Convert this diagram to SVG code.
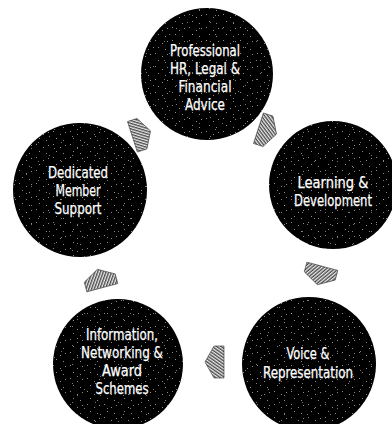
<svg xmlns="http://www.w3.org/2000/svg" width="392" height="424" viewBox="0 0 392 424">
<defs>
<pattern id="speckA" width="17" height="13" patternUnits="userSpaceOnUse">
<rect x="2" y="1" width="1" height="1" fill="#fff"/>
<rect x="9" y="4" width="1" height="1" fill="#fff"/>
<rect x="14" y="2" width="1" height="1" fill="#fff"/>
<rect x="5" y="8" width="1" height="1" fill="#fff"/>
<rect x="12" y="10" width="1" height="1" fill="#fff"/>
</pattern>
<pattern id="speckB" width="23" height="19" patternUnits="userSpaceOnUse">
<rect x="3" y="3" width="1" height="1" fill="#ccc"/>
<rect x="15" y="9" width="1" height="1" fill="#ccc"/>
<rect x="8" y="15" width="1" height="1" fill="#ccc"/>
</pattern>
<pattern id="hatch" width="2.6" height="2.6" patternUnits="userSpaceOnUse" patternTransform="rotate(35)">
<rect width="2.6" height="2.6" fill="#e8e8e8"/>
<rect width="2.6" height="1.3" fill="#4a4a4a"/>
</pattern>
<polygon id="arr" points="-9,-16 1,-16 10,0 1,16 -9,16"/>
</defs>
<style>
.node circle.base{fill:#000}
.node circle.s1{fill:url(#speckA);opacity:0.55}
.node circle.s2{fill:url(#speckB);opacity:0.6}
.node text{fill:#fff;stroke:#fff;stroke-width:0.25;font-family:"DejaVu Sans Condensed","DejaVu Sans","Liberation Sans",sans-serif;font-stretch:condensed;font-size:16px;text-anchor:middle}
#node-information text{font-size:15px}
.conn use{fill:url(#hatch);stroke:#333;stroke-width:0.6}
</style>
<rect width="392" height="424" fill="#fff"/>
<g id="connectors" class="conn">
<use href="#arr" transform="translate(141,134) rotate(-18)"/>
<use href="#arr" transform="translate(267,131) rotate(18)"/>
<use href="#arr" transform="translate(320,275) rotate(105)"/>
<use href="#arr" transform="translate(215,362) rotate(180)"/>
<use href="#arr" transform="translate(100,279) rotate(-105)"/>
</g>
<g id="node-advice" class="node">
<circle class="base" cx="207" cy="74" r="66"/>
<circle class="s1" cx="207" cy="74" r="66"/>
<circle class="s2" cx="207" cy="74" r="66"/>
<text x="205" y="56" textLength="70" lengthAdjust="spacingAndGlyphs">Professional</text>
<text x="205" y="74" textLength="70" lengthAdjust="spacingAndGlyphs">HR, Legal &amp;</text>
<text x="205" y="92" textLength="53" lengthAdjust="spacingAndGlyphs">Financial</text>
<text x="205" y="110" textLength="40" lengthAdjust="spacingAndGlyphs">Advice</text>
</g>
<g id="node-learning" class="node">
<circle class="base" cx="333" cy="185" r="64"/>
<circle class="s1" cx="333" cy="185" r="64"/>
<circle class="s2" cx="333" cy="185" r="64"/>
<text x="333" y="188" textLength="71" lengthAdjust="spacingAndGlyphs">Learning &amp;</text>
<text x="333" y="206" textLength="78" lengthAdjust="spacingAndGlyphs">Development</text>
</g>
<g id="node-voice" class="node">
<circle class="base" cx="309" cy="364" r="67"/>
<circle class="s1" cx="309" cy="364" r="67"/>
<circle class="s2" cx="309" cy="364" r="67"/>
<text x="308" y="359" textLength="43" lengthAdjust="spacingAndGlyphs">Voice &amp;</text>
<text x="308" y="378" textLength="90" lengthAdjust="spacingAndGlyphs">Representation</text>
</g>
<g id="node-information" class="node">
<circle class="base" cx="118" cy="364" r="65"/>
<circle class="s1" cx="118" cy="364" r="65"/>
<circle class="s2" cx="118" cy="364" r="65"/>
<text x="122" y="340" textLength="72" lengthAdjust="spacingAndGlyphs">Information,</text>
<text x="122" y="358" textLength="82" lengthAdjust="spacingAndGlyphs">Networking &amp;</text>
<text x="122" y="376" textLength="40" lengthAdjust="spacingAndGlyphs">Award</text>
<text x="122" y="394" textLength="53" lengthAdjust="spacingAndGlyphs">Schemes</text>
</g>
<g id="node-support" class="node">
<circle class="base" cx="80" cy="190" r="67"/>
<circle class="s1" cx="80" cy="190" r="67"/>
<circle class="s2" cx="80" cy="190" r="67"/>
<text x="78" y="178" textLength="60" lengthAdjust="spacingAndGlyphs">Dedicated</text>
<text x="78" y="196" textLength="45" lengthAdjust="spacingAndGlyphs">Member</text>
<text x="78" y="214" textLength="47" lengthAdjust="spacingAndGlyphs">Support</text>
</g>
</svg>
